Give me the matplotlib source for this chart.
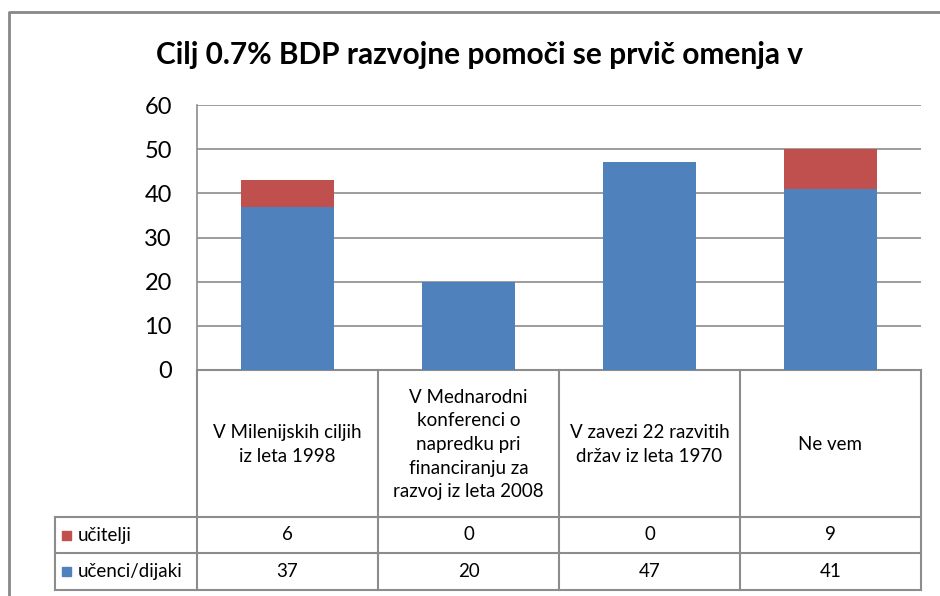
import matplotlib
matplotlib.use("Agg")
import matplotlib.pyplot as plt
import numpy as np

plt.rcParams['font.family'] = ['Lato', 'DejaVu Sans']

# data
categories = ["V Milenijskih ciljih\niz leta 1998",
              "V Mednarodni\nkonferenci o\nnapredku pri\nfinanciranju za\nrazvoj iz leta 2008",
              "V zavezi 22 razvitih\ndržav iz leta 1970",
              "Ne vem"]
ucenci = [37, 20, 47, 41]
ucitelji = [6, 0, 0, 9]
series_names = ["učitelji", "učenci/dijaki"]
yticks = [0, 10, 20, 30, 40, 50, 60]

BLUE = "#4F81BD"
RED = "#C0504D"
GRID = "#8c8c8c"

W, H = 940, 596
fig = plt.figure(figsize=(W / 100, H / 100), dpi=100)

# overlay in pixel coords for frame + table
ov = fig.add_axes([0, 0, 1, 1])
ov.set_xlim(0, W)
ov.set_ylim(H, 0)
ov.axis("off")

# plot area
left, right, top, bottom = 197, 921, 105, 370
ax = fig.add_axes([left / W, 1 - bottom / H, (right - left) / W, (bottom - top) / H])
x = np.arange(len(categories))
ax.bar(x, ucenci, width=0.51, color=BLUE, zorder=3)
ax.bar(x, ucitelji, width=0.51, bottom=ucenci, color=RED, zorder=3)
ax.set_xlim(-0.5, len(categories) - 0.5)
ax.set_ylim(0, 60)
ax.set_yticks(yticks)
ax.set_yticklabels([str(t) for t in yticks], fontsize=17)
ax.tick_params(axis="y", length=0, pad=18)
ax.set_xticks([])
ax.yaxis.grid(True, color=GRID, linewidth=1.2)
for s in ["top", "right", "bottom"]:
    ax.spines[s].set_visible(False)
ax.spines["left"].set_color(GRID)
ax.spines["left"].set_linewidth(1.2)
ax.set_facecolor("none")

# outer frame
ov.plot([9, 9, W + 5], [H + 5, 12, 12], color="#888888", lw=2, clip_on=False)

# title
ov.text(480, 55, "Cilj 0.7% BDP razvojne pomoči se prvič omenja v",
        fontsize=21.5, fontweight="bold", ha="center", va="center")

# table
col_w = (right - left) / len(categories)
row_y = [bottom, 517, 553, 590]
lw = 1.5
ov.plot([left, right], [bottom, bottom], color=GRID, lw=lw)
for y in row_y[1:]:
    ov.plot([55, right], [y, y], color=GRID, lw=lw)
for i in range(len(categories) + 1):
    ov.plot([left + i * col_w] * 2, [bottom, row_y[-1]], color=GRID, lw=lw)
ov.plot([55, 55], [row_y[1], row_y[-1]], color=GRID, lw=lw)

fs = 13.5
for i, cat in enumerate(categories):
    cx = left + (i + 0.5) * col_w
    ov.text(cx, (bottom + row_y[1]) / 2 + 1, cat, fontsize=fs, ha="center", va="center",
            linespacing=1.48)
    ov.text(cx, (row_y[1] + row_y[2]) / 2, str(ucitelji[i]), fontsize=fs,
            ha="center", va="center")
    ov.text(cx, (row_y[2] + row_y[3]) / 2, str(ucenci[i]), fontsize=fs,
            ha="center", va="center")

for j, (name, col) in enumerate(zip(series_names, [RED, BLUE])):
    cy = (row_y[j + 1] + row_y[j + 2]) / 2
    ov.add_patch(plt.Rectangle((62, cy - 4.5), 9, 9, color=col))
    ov.text(78, cy, name, fontsize=fs, ha="left", va="center")

fig.savefig("out.png", dpi=100)
